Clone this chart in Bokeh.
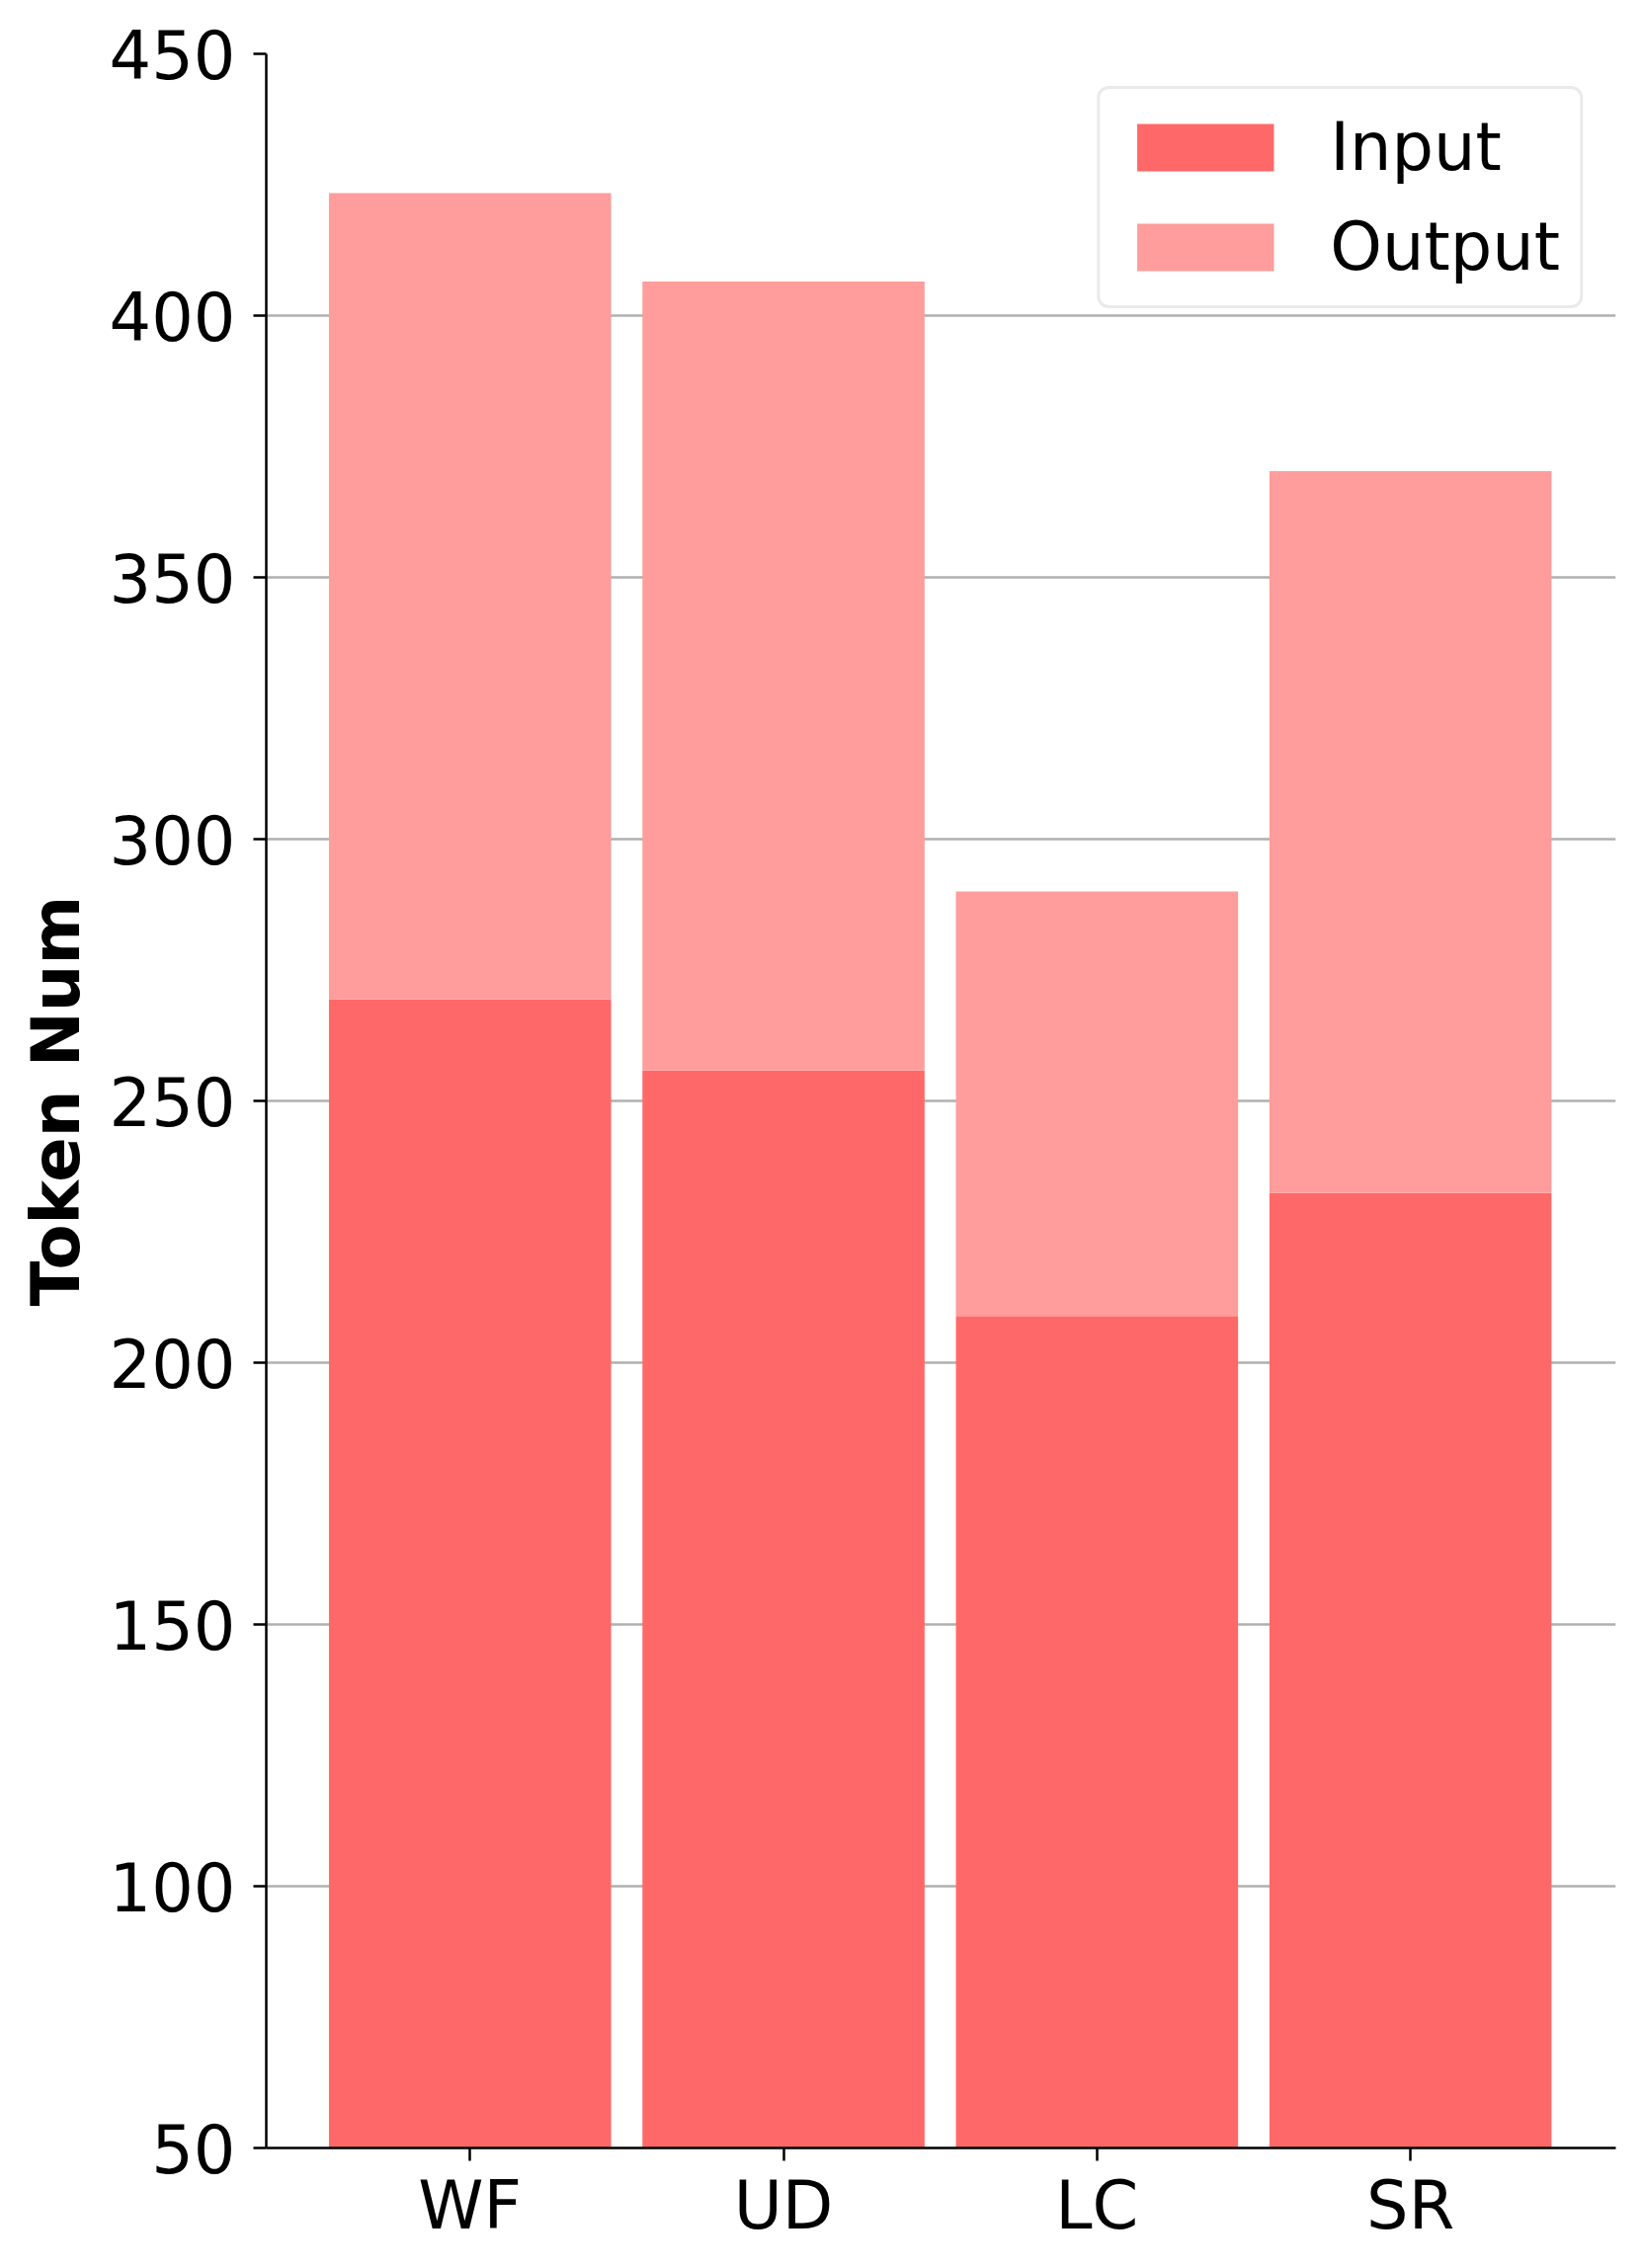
from bokeh.plotting import figure
from bokeh.models import ColumnDataSource, FixedTicker, Range1d, Legend, LegendItem
from bokeh.embed import file_html
from bokeh.resources import INLINE

categories = ["WF", "UD", "LC", "SR"]
input_tokens = [269.4, 255.8, 208.9, 232.4]
output_tokens = [154.0, 150.7, 81.1, 137.9]
y_ticks = [50, 100, 150, 200, 250, 300, 350, 400, 450]

xs = list(range(len(categories)))
totals = [a + b for a, b in zip(input_tokens, output_tokens)]
src = ColumnDataSource(dict(x=xs, inp=input_tokens, tot=totals, zero=[0] * len(xs)))

FONT = "DejaVu Sans"
FS = "67px"

p = figure(width=1646, height=2280, output_backend="svg", toolbar_location=None,
           x_range=Range1d(-0.65, 3.655), y_range=Range1d(50, 450))
p.min_border_left = 269
p.min_border_right = 11
p.min_border_top = 54
p.min_border_bottom = 106
p.outline_line_color = None
p.background_fill_color = "white"

r_in = p.vbar(x="x", width=0.9, bottom="zero", top="inp", source=src,
              fill_color="#ff6868", line_color=None)
r_out = p.vbar(x="x", width=0.9, bottom="inp", top="tot", source=src,
               fill_color="#ff9c9c", line_color=None)

p.xgrid.grid_line_color = None
p.ygrid.grid_line_color = "#b0b0b0"
p.ygrid.grid_line_width = 2.5
p.ygrid.level = "underlay"

p.xaxis.ticker = FixedTicker(ticks=xs)
p.xaxis.major_label_overrides = {i: c for i, c in enumerate(categories)}
p.yaxis.ticker = FixedTicker(ticks=y_ticks)

for ax in (p.xaxis[0], p.yaxis[0]):
    ax.axis_line_width = 2.5
    ax.axis_line_color = "black"
    ax.major_tick_line_width = 2.5
    ax.major_tick_line_color = "black"
    ax.major_tick_out = 13
    ax.major_tick_in = 0
    ax.minor_tick_line_color = None
    ax.major_label_text_font = FONT
    ax.major_label_text_font_size = FS
    ax.major_label_text_color = "black"

p.xaxis.major_label_standoff = 6
p.yaxis.major_label_standoff = 18
p.yaxis.axis_label = "Token Num"
p.yaxis.axis_label_text_font = FONT
p.yaxis.axis_label_text_font_size = FS
p.yaxis.axis_label_text_font_style = "bold"
p.yaxis.axis_label_text_color = "black"
p.yaxis.axis_label_standoff = 12

legend = Legend(items=[LegendItem(label="Input", renderers=[r_in]),
                       LegendItem(label="Output", renderers=[r_out])],
                location="top_right")
legend.label_text_font = FONT
legend.label_text_font_size = FS
legend.label_text_color = "black"
legend.glyph_width = 173
legend.glyph_height = 60
legend.label_height = 78
legend.label_standoff = 40
legend.spacing = 23
legend.padding = 20
legend.margin = 33
legend.border_line_color = "#d6d6d6"
legend.border_line_width = 3
legend.background_fill_color = "white"
legend.background_fill_alpha = 1.0
if "border_radius" in Legend.properties():
    legend.border_radius = 12
p.add_layout(legend)

open("out.html", "w").write(file_html(p, INLINE))
